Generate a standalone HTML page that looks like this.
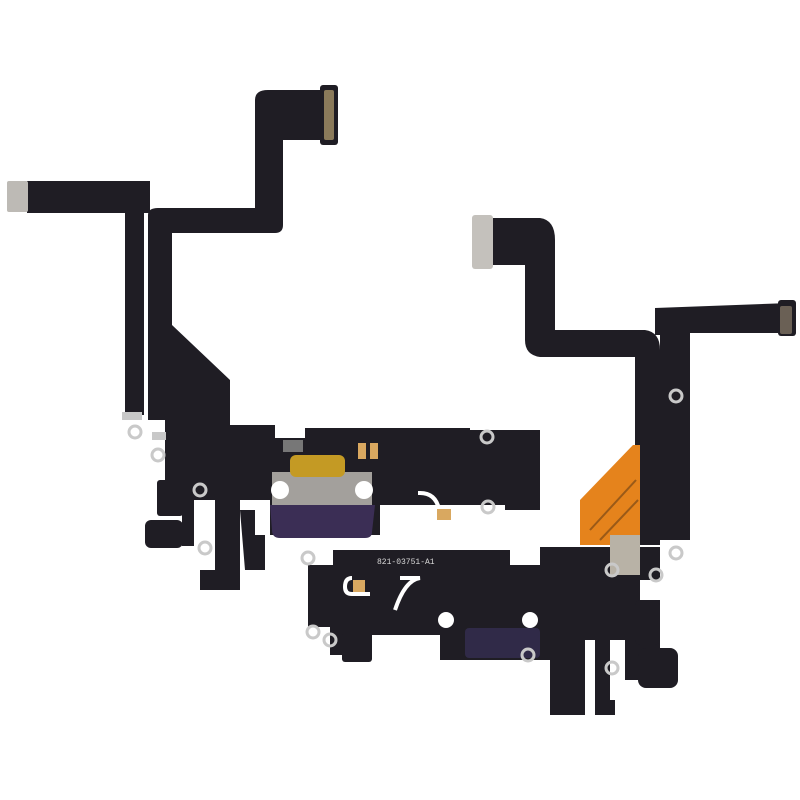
<!DOCTYPE html>
<html><head><style>html,body{margin:0;padding:0;background:#fff;width:800px;height:800px;overflow:hidden}</style></head>
<body>
<svg width="800" height="800" viewBox="0 0 800 800" xmlns="http://www.w3.org/2000/svg">
<g fill="#1f1d24">
<!-- LEFT ASSEMBLY -->
<!-- top connector flex -->
<path d="M255 100 Q255 90 268 90 L322 90 L322 140 L283 140 L283 225 Q283 233 275 233 L172 233 L172 330 L148 330 L148 215 Q148 208 158 208 L255 208 Z"/>
<rect x="320" y="85" width="18" height="60" rx="3"/>
<!-- left strip -->
<rect x="27" y="181" width="123" height="32"/>
<rect x="125" y="205" width="19" height="210"/>
<!-- body -->
<path d="M148 325 L172 325 L230 380 L230 425 L275 425 L275 438 L305 438 L305 428 L470 428 L470 430 L540 430 L540 510 L505 510 L505 505 L380 505 L380 535 L270 535 L270 500 L240 500 L240 590 L200 590 L200 570 L215 570 L215 500 L165 500 L165 420 L148 420 Z"/>
<rect x="157" y="480" width="26" height="36" rx="3"/>
<rect x="145" y="520" width="38" height="28" rx="6"/>
<rect x="182" y="476" width="12" height="70"/>
<path d="M240 510 L255 510 L255 535 L265 535 L265 570 L245 570 Z"/>
<!-- RIGHT ASSEMBLY -->
<path d="M492 218 L540 218 Q555 220 555 240 L555 330 L645 330 Q660 332 660 350 L660 545 L635 545 L635 357 L540 357 Q525 355 525 340 L525 265 L492 265 Z"/>
<path d="M655 308 L790 303 L790 333 L690 333 L690 540 L660 540 L660 335 L655 335 Z"/>
<rect x="778" y="300" width="18" height="36" rx="3"/>
<!-- main bar -->
<path d="M333 550 L510 550 L510 565 L540 565 L540 547 L660 547 L660 580 L640 580 L640 600 L625 600 L625 640 L585 640 L585 715 L550 715 L550 660 L540 660 L540 660 L440 660 L440 635 L345 635 L345 655 L330 655 L330 627 L308 627 L308 565 L333 565 Z"/>
<path d="M625 600 L660 600 L660 660 L650 680 L625 680 Z"/>
<rect x="635" y="600" width="25" height="45" rx="5"/>
<rect x="638" y="648" width="40" height="40" rx="8"/>
<path d="M595 640 L610 640 L610 700 L615 700 L615 715 L595 715 Z"/>
<rect x="342" y="632" width="30" height="30" rx="3"/>
</g>
<!-- gray tabs -->
<rect x="7" y="181" width="21" height="31" rx="2" fill="#bdbab5"/>
<rect x="472" y="215" width="21" height="54" rx="3" fill="#c4c1bc"/>
<!-- connectors pins -->
<rect x="324" y="90" width="10" height="50" rx="2" fill="#8a7a5a"/>
<rect x="780" y="306" width="12" height="28" rx="2" fill="#6a6055"/>
<!-- orange flex -->
<path d="M580 525 L580 500 L633 445 L640 445 L640 545 L580 545 Z" fill="#e5831c"/>
<path d="M590 530 L636 480 M600 540 L638 500" stroke="#9a5a18" stroke-width="2" fill="none"/>
<!-- left connector -->
<rect x="272" y="472" width="100" height="36" fill="#a3a09c"/>
<path d="M270 505 L375 505 L372 532 Q372 538 365 538 L280 538 Q272 538 272 530 Z" fill="#3b2e55"/>
<rect x="290" y="455" width="55" height="22" rx="6" fill="#c49a24"/>
<circle cx="280" cy="490" r="9" fill="#fff"/><circle cx="364" cy="490" r="9" fill="#fff"/>
<rect x="283" y="440" width="20" height="12" fill="#777"/>
<rect x="358" y="443" width="8" height="16" fill="#d9a860"/><rect x="370" y="443" width="8" height="16" fill="#d9a860"/>
<!-- right connector -->
<rect x="465" y="628" width="75" height="30" rx="4" fill="#302a48"/>
<circle cx="446" cy="620" r="8" fill="#fff"/><circle cx="530" cy="620" r="8" fill="#fff"/>
<rect x="610" y="535" width="30" height="40" fill="#b8b2a6"/>
<!-- white slots -->
<g fill="none" stroke="#fff" stroke-width="4">
<path d="M434 507 Q425 507 425 515 Q425 522 434 522 L470 522"/>
<path d="M352 578 Q345 578 345 587 Q345 594 352 594 L370 594"/>
<path d="M418 493 L420 493 Q440 493 440 520"/>
<path d="M400 578 L420 578 Q405 580 395 610"/>
</g>
<rect x="437" y="509" width="14" height="11" fill="#d9a860"/>
<rect x="353" y="580" width="12" height="12" fill="#d9a860"/>
<!-- rings -->
<g fill="none" stroke="#c9c9c9" stroke-width="3">
<circle cx="135" cy="432" r="6"/><circle cx="158" cy="455" r="6"/><circle cx="200" cy="490" r="6"/>
<circle cx="205" cy="548" r="6"/><circle cx="487" cy="437" r="6"/><circle cx="488" cy="507" r="6"/>
<circle cx="308" cy="558" r="6"/><circle cx="313" cy="632" r="6"/><circle cx="330" cy="640" r="6"/>
<circle cx="612" cy="570" r="6"/><circle cx="676" cy="553" r="6"/><circle cx="656" cy="575" r="6"/>
<circle cx="612" cy="668" r="6"/><circle cx="676" cy="396" r="6"/><circle cx="528" cy="655" r="6"/>
</g>
<rect x="122" y="412" width="20" height="8" fill="#c8c8c8"/>
<rect x="152" y="432" width="14" height="8" fill="#c8c8c8"/>
<text x="377" y="564" font-family="Liberation Mono, monospace" font-size="8" fill="#d8d8d8">821-03751-A1</text>
</svg>
</body></html>
